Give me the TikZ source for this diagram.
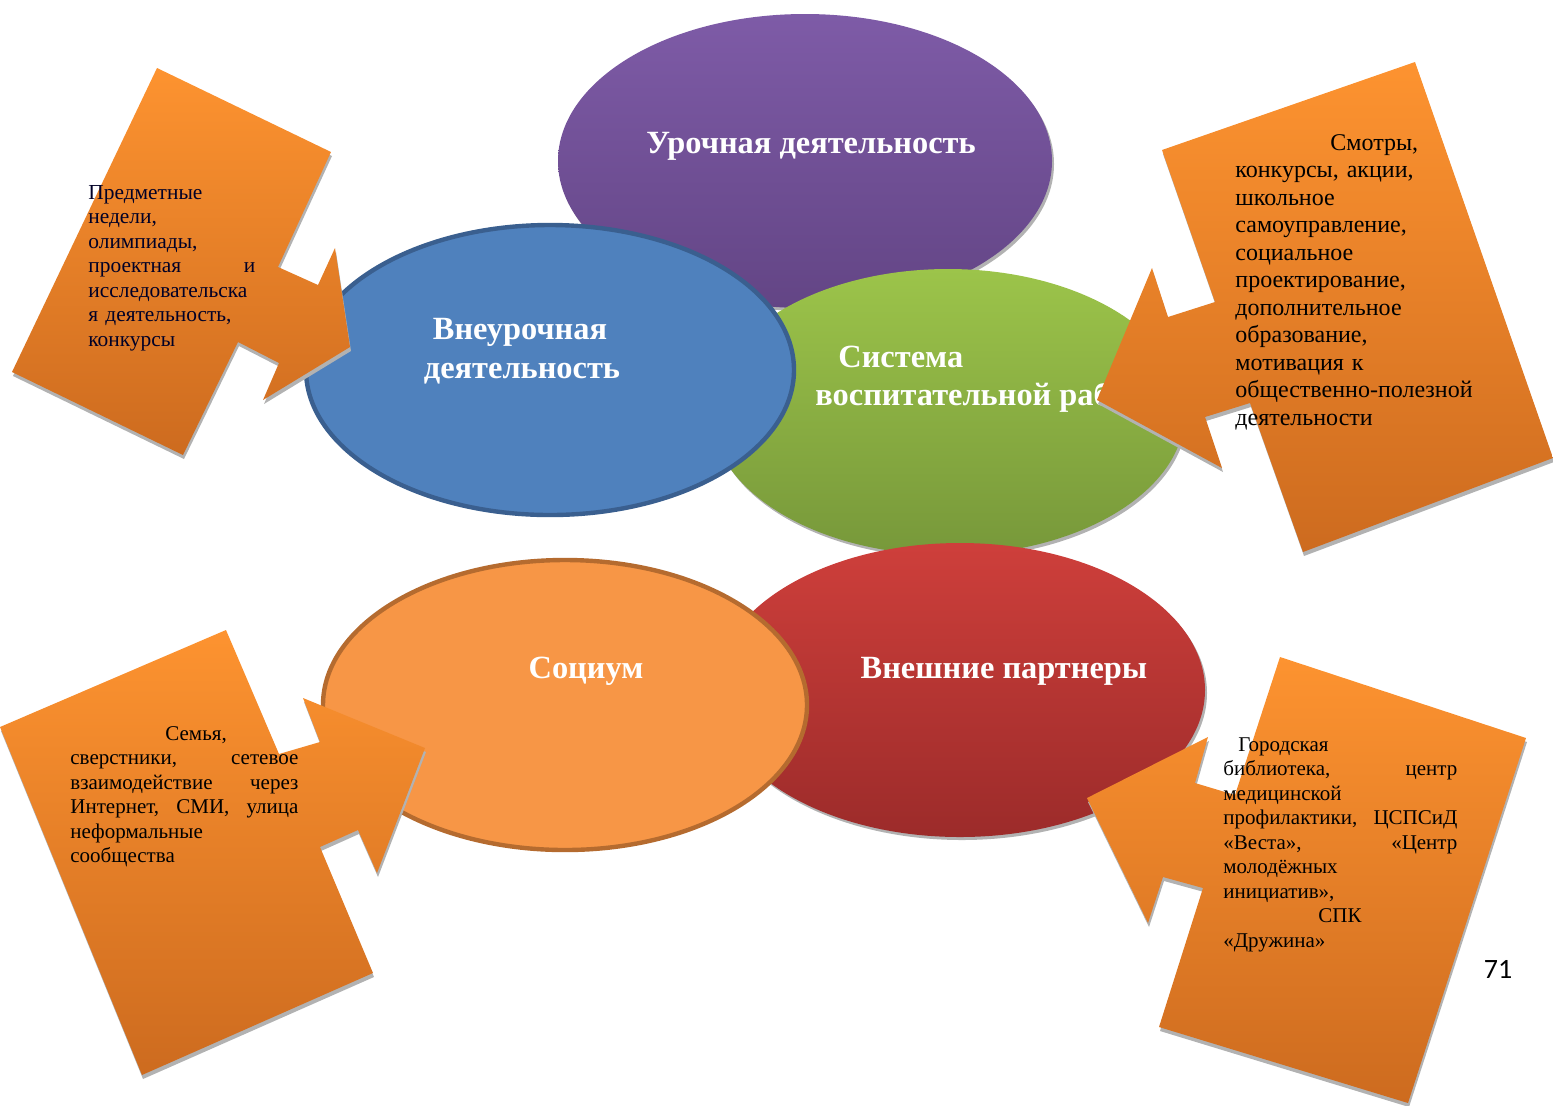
\documentclass[tikz,border=0pt]{standalone}
\usepackage{fontspec}
\setmainfont{Liberation Serif}
\newfontfamily\numfont{Carlito}
\definecolor{purT}{HTML}{7E5BA7}
\definecolor{purB}{HTML}{634585}
\definecolor{grnT}{HTML}{9CC44A}
\definecolor{grnB}{HTML}{77983A}
\definecolor{bluF}{HTML}{4F81BD}
\definecolor{bluD}{HTML}{3A5F8F}
\definecolor{redT}{HTML}{CE3F3B}
\definecolor{redB}{HTML}{9C2B2A}
\definecolor{socF}{HTML}{F79646}
\definecolor{socD}{HTML}{B56B2F}
\definecolor{orT}{HTML}{FD9330}
\definecolor{orB}{HTML}{CD6B1F}
\newcommand{\jl}[2]{\leavevmode\hbox to #1{#2}}
\begin{document}
\begin{tikzpicture}[x=0.5pt,y=-0.5pt,
  shadowfill/.style={fill=black!30},
  title/.style={text=white,font=\fontsize{16.2}{19}\selectfont\bfseries,inner sep=0pt},
  bodysmall/.style={text=black,inner sep=0pt,anchor=north west,align=left,
    font=\fontsize{10.5}{12.25}\selectfont},
  bodylarge/.style={text=black,inner sep=0pt,anchor=north west,align=left,
    font=\fontsize{12}{13.75}\selectfont},
  calloutfill/.style={top color=orT,bottom color=orB}]
\useasboundingbox (0,0) rectangle (1553,1105);

% --- purple ellipse
\fill[shadowfill] (807,164) ellipse [x radius=247,y radius=147];
\shade[top color=purT,bottom color=purB] (805,161) ellipse [x radius=247,y radius=147];
\node[title,anchor=base] (uroch) at (811,153) {Урочная деятельность};

% --- green ellipse
\fill[shadowfill] (950,415) ellipse [x radius=237,y radius=143];
\shade[top color=grnT,bottom color=grnB] (948,412) ellipse [x radius=237,y radius=143];
\node[title,anchor=base west] (sys1) at (838,367) {Система};
\node[title,anchor=base west] (sys2) at (815,405) {воспитательной работы};

% --- blue ellipse
\filldraw[fill=bluF,draw=bluD,line width=2.2pt] (550,370) ellipse [x radius=244,y radius=145];
\node[title,anchor=base] (vneur1) at (520,339) {Внеурочная};
\node[title,anchor=base] (vneur2) at (522,378) {деятельность};

% --- red ellipse
\fill[shadowfill] (962,693) ellipse [x radius=245,y radius=147];
\shade[top color=redT,bottom color=redB] (960,690) ellipse [x radius=245,y radius=147];
\node[title,anchor=base] (partn) at (1004,678) {Внешние партнеры};

% --- social ellipse
\filldraw[fill=socF,draw=socD,line width=2.2pt] (565,705) ellipse [x radius=242,y radius=145];
\node[title,anchor=base] (soc) at (586,678) {Социум};

% --- callout 1 (top left)
\fill[shadowfill,shift={(1,4)}] (157,68) -- (331,152) -- (278,267) -- (318,285) -- (335,248) -- (350,347) -- (263,400) -- (279,363) -- (238,342) -- (183,455) -- (12,372) -- cycle;
\shade[calloutfill] (157,68) -- (331,152) -- (278,267) -- (318,285) -- (335,248) -- (350,347) -- (263,400) -- (279,363) -- (238,342) -- (183,455) -- (12,372) -- cycle;
\node[bodysmall,text width=83.5pt,text=black!85!blue,font=\fontsize{10.7}{12.25}\selectfont] (c1) at (88,185) {Предметные\\ недели,\\ олимпиады,\\ \jl{83.5pt}{проектная\hfill и}\\ исследовательска\\ я деятельность,\\ конкурсы};

% --- callout 2 (top right)
\fill[shadowfill,shift={(1,4)}] (1415,62) -- (1553,458) -- (1303,552) -- (1250,403) -- (1205,417) -- (1222,468) -- (1097,400) -- (1152,268) -- (1168,317) -- (1215,302) -- (1162,150) -- cycle;
\shade[calloutfill] (1415,62) -- (1553,458) -- (1303,552) -- (1250,403) -- (1205,417) -- (1222,468) -- (1097,400) -- (1152,268) -- (1168,317) -- (1215,302) -- (1162,150) -- cycle;
\node[bodylarge,text width=135pt] (c2) at (1235,134) {\hspace*{47.5pt}Смотры,\\ конкурсы, акции,\\ школьное\\ самоуправление,\\ социальное\\ проектирование,\\ дополнительное\\ образование,\\ мотивация к\\ общественно-полезной\\ деятельности};

% --- callout 3 (bottom left)
\fill[shadowfill,shift={(1,4)}] (226,630) -- (279,754) -- (320,742) -- (303,698) -- (425,748) -- (377,873) -- (358,830) -- (320,847) -- (373,973) -- (142,1075) -- (0,727) -- cycle;
\shade[calloutfill] (226,630) -- (279,754) -- (320,742) -- (303,698) -- (425,748) -- (377,873) -- (358,830) -- (320,847) -- (373,973) -- (142,1075) -- (0,727) -- cycle;
\node[bodysmall,text width=114pt] (c3) at (70,726) {\hspace*{47.5pt}Семья,\\ \jl{114pt}{сверстники,\hfill сетевое}\\ \jl{114pt}{взаимодействие\hfill через}\\ \jl{114pt}{Интернет,\hfill СМИ,\hfill улица}\\ неформальные\\ сообщества};

% --- callout 4 (bottom right)
\fill[shadowfill,shift={(1,4)}] (1280,657) -- (1526,738) -- (1408,1103) -- (1159,1027) -- (1203,888) -- (1163,877) -- (1148,923) -- (1087,798) -- (1208,737) -- (1195,783) -- (1235,795) -- cycle;
\shade[calloutfill] (1280,657) -- (1526,738) -- (1408,1103) -- (1159,1027) -- (1203,888) -- (1163,877) -- (1148,923) -- (1087,798) -- (1208,737) -- (1195,783) -- (1235,795) -- cycle;
\node[bodysmall,text width=117pt] (c4) at (1223,737) {\hspace*{7.5pt}Городская\\ \jl{117pt}{библиотека,\hfill центр}\\ медицинской\\ \jl{117pt}{профилактики,\hfill ЦСПСиД}\\ \jl{117pt}{«Веста»,\hfill «Центр}\\ молодёжных\\ инициатив»,\\ \hspace*{47.5pt}СПК\\ «Дружина»};

% --- page number
\node[inner sep=0pt,anchor=base,font=\numfont\fontsize{14}{16}\selectfont] (pnum) at (1498,978) {71};
\end{tikzpicture}
\end{document}
